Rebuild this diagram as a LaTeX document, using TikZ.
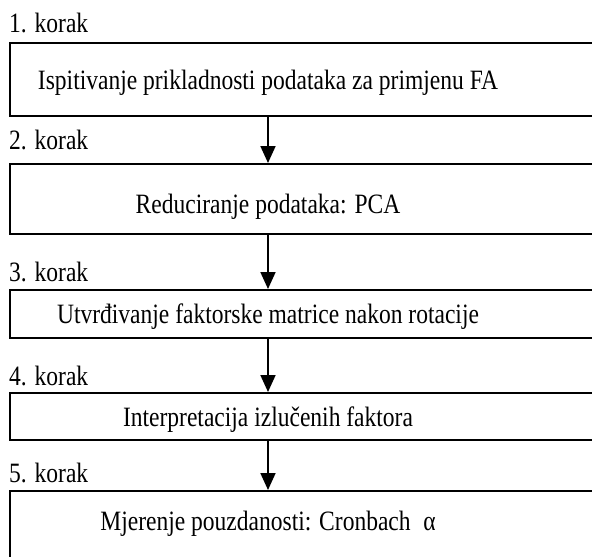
\documentclass[tikz,border=0pt]{standalone}
\usepackage{fontspec}
\setmainfont[FakeStretch=0.84]{Liberation Serif}
\usetikzlibrary{arrows.meta,positioning}
\tikzset{
  stepbox/.style={draw, line width=1.5pt, anchor=north west, minimum width=640pt, inner sep=0pt},
  steplabel/.style={anchor=base west, inner sep=0pt},
  steptext/.style={anchor=base, inner sep=0pt},
  flow/.style={-{Triangle[length=17pt,width=15pt]}, line width=1.8pt}
}

\begin{document}
\begin{tikzpicture}[x=1pt, y=-1pt, font=\fontsize{28}{32}\selectfont]
  \useasboundingbox (0,0) rectangle (592,557);
  \clip (0,0) rectangle (592,557);
  % step labels
  \node[steplabel] (k1) at (9,32) {1. korak};
  \node[steplabel] (k2) at (9,149) {2. korak};
  \node[steplabel] (k3) at (9,281) {3. korak};
  \node[steplabel] (k4) at (9,385) {4. korak};
  \node[steplabel] (k5) at (9,482) {5. korak};
  % boxes, cut off at the right and at the bottom
  \node[stepbox, minimum height=73pt] (b1) at (9,42) {};
  \node[stepbox, minimum height=70pt] (b2) at (9,163) {};
  \node[stepbox, minimum height=48pt] (b3) at (9,289) {};
  \node[stepbox, minimum height=47pt] (b4) at (9,392) {};
  \node[stepbox, minimum height=100pt] (b5) at (9,490) {};
  % box texts
  \node[steptext] (t1) at (268,89) {Ispitivanje prikladnosti podataka za primjenu FA};
  \node[steptext] (t2) at (268,213) {Reduciranje podataka: PCA};
  \node[steptext] (t3) at (268,323) {Utvrđivanje faktorske matrice nakon rotacije};
  \node[steptext] (t4) at (268,426) {Interpretacija izlučenih faktora};
  \node[steptext] (t5) at (268,530) {Mjerenje pouzdanosti: Cronbach\hspace{0.45em}α};
  % arrows between the steps
  \draw[flow] (b1.south -| t1) -- (b2.north -| t1);
  \draw[flow] (b2.south -| t1) -- (b3.north -| t1);
  \draw[flow] (b3.south -| t1) -- (b4.north -| t1);
  \draw[flow] (b4.south -| t1) -- (b5.north -| t1);
\end{tikzpicture}
\end{document}
